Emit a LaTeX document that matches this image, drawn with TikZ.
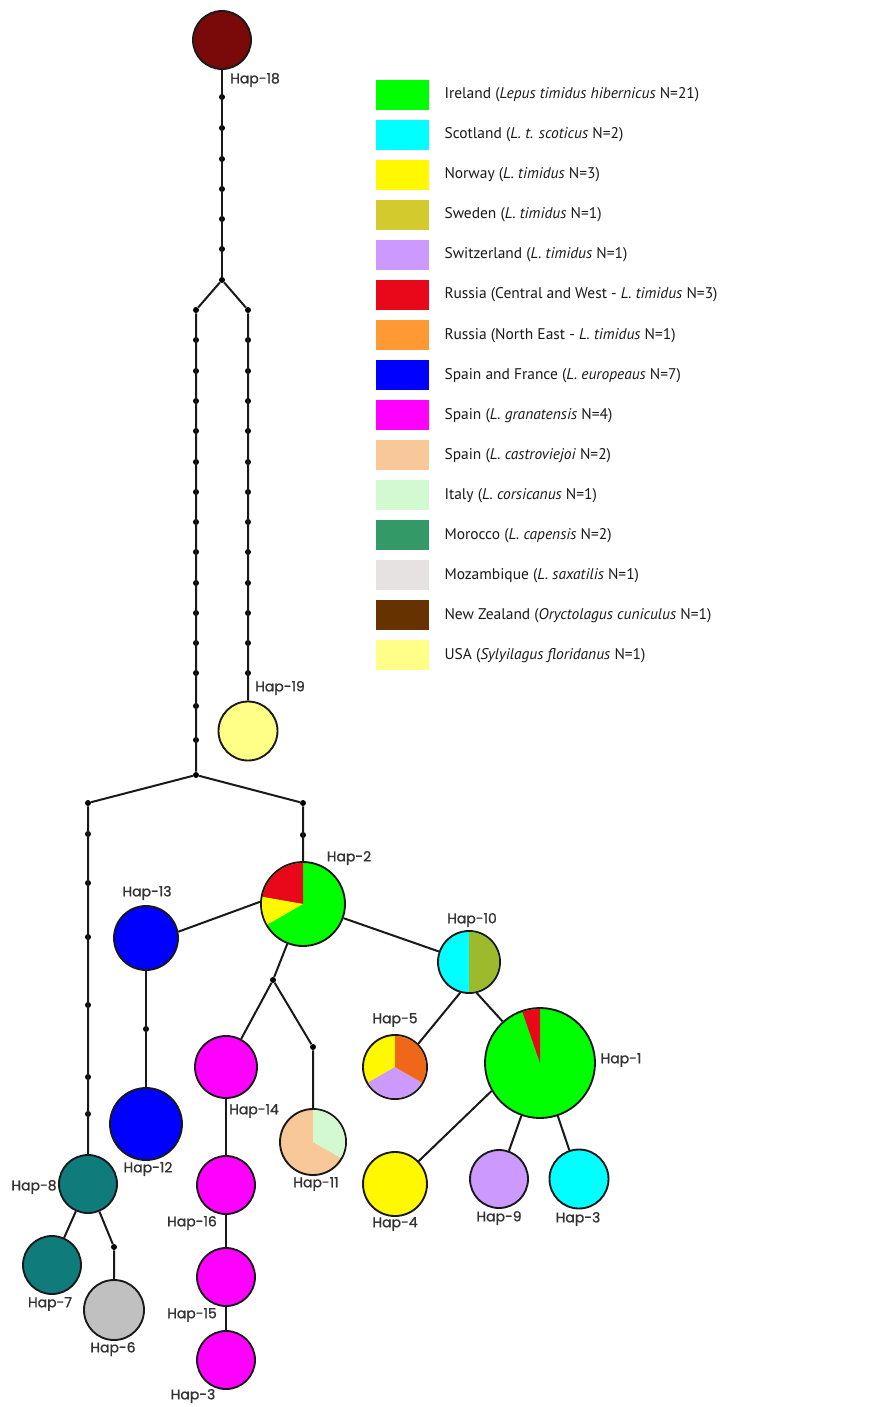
\documentclass[tikz,border=0pt]{standalone}
\usepackage{fontspec}
\setmainfont{PT Sans}
\newfontfamily\hapfont{Poppins}[FakeBold=1.2]
\usetikzlibrary{positioning}

\definecolor{ireland}{HTML}{00FF00}
\definecolor{scotland}{HTML}{00FFFF}
\definecolor{norway}{HTML}{FFF800}
\definecolor{sweden}{HTML}{D3CB2D}
\definecolor{swiss}{HTML}{CC99FF}
\definecolor{russiacw}{HTML}{E8081A}
\definecolor{russiane}{HTML}{FF9933}
\definecolor{spainfr}{HTML}{0000FF}
\definecolor{granat}{HTML}{FF00FF}
\definecolor{castro}{HTML}{F8C898}
\definecolor{italy}{HTML}{D2F9D0}
\definecolor{morocco}{HTML}{339966}
\definecolor{mozamb}{HTML}{E6E2E2}
\definecolor{nzealand}{HTML}{663300}
\definecolor{usa}{HTML}{FFFF88}
% colours as printed in the network
\definecolor{maroon}{HTML}{7A0A0A}
\definecolor{teal}{HTML}{0F7B7B}
\definecolor{greyhap}{HTML}{C0C0C0}
\definecolor{olive}{HTML}{9DB92C}
\definecolor{deeporange}{HTML}{F0671A}

% wedge of a pie node: node, radius (px), colour, from angle, to angle
\newcommand{\pieslice}[5]{%
  \fill[#3] (#1.center) -- ++({-(#4)}:#2) arc[start angle={-(#4)}, end angle={-(#5)}, radius=#2] -- cycle;}

\begin{document}
\begin{tikzpicture}[
  x=0.75pt, y=-0.75pt,
  hap/.style={circle, draw=black!90, line width=1.4pt, inner sep=0pt, minimum size=#1*1.5pt},
  mut/.style={circle, fill=black, inner sep=0pt, minimum size=4.5pt},
  link/.style={line width=1.5pt, black!90},
  haplabel/.style={font=\hapfont\fontsize{10.5}{12}\selectfont, text=black!80, inner sep=0pt},
  swatch/.style={rectangle, inner sep=0pt, minimum width=39.75pt, minimum height=22.5pt},
  legtext/.style={font=\fontsize{11.6}{13}\selectfont, text=black!90, inner sep=0pt, anchor=west}
]
\useasboundingbox (0,0) rectangle (883,1407);

% outgroup chain
\node[hap=29, fill=maroon] (h18) at (222,40) {};
\foreach \y [count=\i] in {97,128,159,189,219,249}
  \node[mut] (top\i) at (222,\y) {};
\node[mut] (j1) at (222,280) {};
\node[mut] (lc1) at (196,310) {};
\node[mut] (rc1) at (248,310) {};
\foreach \y [count=\i] in {340,371,401,431,462,492,522,552,583,613,643,673,706,740}
  \node[mut] (left\i) at (196,\y) {};
\foreach \y [count=\i] in {340,371,401,431,462,492,522,552,583,613,643,673}
  \node[mut] (right\i) at (248,\y) {};
\node[hap=29.5, fill=usa] (h19) at (248,731) {};
\node[mut] (j2) at (196,775) {};
\node[mut] (lc2) at (88,803) {};
\node[mut] (rc2) at (303,803) {};
\foreach \y [count=\i] in {834,883,937,1005,1077,1114}
  \node[mut] (low\i) at (88,\y) {};
\node[mut] (d2) at (303,835) {};

% haplotypes
\node[hap=42, fill=ireland] (h2) at (303,904) {};
\node[hap=32, fill=spainfr] (h13) at (146,938) {};
\node[mut] (d13) at (146,1029) {};
\node[hap=36, fill=spainfr] (h12) at (146,1124) {};
\node[mut] (j3) at (273,980) {};
\node[hap=31, fill=granat] (h14) at (226,1067) {};
\node[hap=29, fill=granat] (h16) at (226,1185) {};
\node[hap=29, fill=granat] (h15) at (226,1277) {};
\node[hap=29, fill=granat] (h3b) at (226,1360) {};
\node[mut] (d11) at (313,1047) {};
\node[hap=33, fill=castro] (h11) at (313,1142) {};
\node[hap=29, fill=teal] (h8) at (88,1184) {};
\node[hap=29, fill=teal] (h7) at (52,1265) {};
\node[mut] (d6) at (114,1247) {};
\node[hap=30, fill=greyhap] (h6) at (114,1310) {};
\node[hap=31, fill=scotland] (h10) at (469,962) {};
\node[hap=32, fill=norway] (h5) at (395,1067) {};
\node[hap=55, fill=ireland] (h1) at (540,1063) {};
\node[hap=32, fill=norway] (h4) at (395,1184) {};
\node[hap=29, fill=swiss] (h9) at (499,1179) {};
\node[hap=29.5, fill=scotland] (h3) at (579,1179) {};

% pie wedges
\pieslice{h2}{41}{russiacw}{90}{170}
\pieslice{h2}{41}{norway}{170}{210}
\pieslice{h10}{30}{olive}{-90}{90}
\pieslice{h5}{31}{swiss}{210}{330}
\pieslice{h5}{31}{deeporange}{-30}{90}
\pieslice{h1}{54}{russiacw}{90}{109}
\pieslice{h11}{32}{italy}{-30}{90}

% links
\draw[link] (h18) -- (j1);
\draw[link] (j1) -- (lc1) -- (j2);
\draw[link] (j1) -- (rc1) -- (h19);
\draw[link] (j2) -- (lc2) -- (h8);
\draw[link] (j2) -- (rc2) -- (h2);
\draw[link] (h2.177) -- (h13.11);
\draw[link] (h13) -- (h12);
\draw[link] (h2) -- (j3);
\draw[link] (j3) -- (h14);
\draw[link] (j3) -- (d11) -- (h11);
\draw[link] (h14) -- (h16) -- (h15) -- (h3b);
\draw[link] (h8) -- (h7);
\draw[link] (h8) -- (d6) -- (h6);
\draw[link] (h2) -- (h10);
\draw[link] (h10.-106) -- (h5.45);
\draw[link] (h10.-76) -- (h1.132);
\draw[link] (h1.210) -- (h4.44);
\draw[link] (h1) -- (h9);
\draw[link] (h1) -- (h3);

% haplotype labels
\node[haplabel] (l18) at (255,80) {Hap-18};
\node[haplabel] (l19) at (280,688) {Hap-19};
\node[haplabel] (l2) at (349,858) {Hap-2};
\node[haplabel] (l13) at (147,893) {Hap-13};
\node[haplabel] (l12) at (148,1169) {Hap-12};
\node[haplabel] (l14) at (254,1111) {Hap-14};
\node[haplabel] (l11) at (316,1184) {Hap-11};
\node[haplabel] (l8) at (34,1187) {Hap-8};
\node[haplabel] (l7) at (50,1304) {Hap-7};
\node[haplabel] (l6) at (113,1349) {Hap-6};
\node[haplabel] (l16) at (192,1223) {Hap-16};
\node[haplabel] (l15) at (192,1315) {Hap-15};
\node[haplabel] (l3b) at (193,1396) {Hap-3};
\node[haplabel] (l10) at (472,920) {Hap-10};
\node[haplabel] (l5) at (395,1020) {Hap-5};
\node[haplabel] (l1) at (621,1060) {Hap-1};
\node[haplabel] (l4) at (395,1224) {Hap-4};
\node[haplabel] (l9) at (499,1218) {Hap-9};
\node[haplabel] (l3) at (578,1219) {Hap-3};

% legend
\node[swatch, fill=ireland] (sw1) at (402.5,95) {};
\node[swatch, fill=scotland, below=7.125pt of sw1] (sw2) {};
\node[swatch, fill=norway, below=7.125pt of sw2] (sw3) {};
\node[swatch, fill=sweden, below=7.125pt of sw3] (sw4) {};
\node[swatch, fill=swiss, below=7.125pt of sw4] (sw5) {};
\node[swatch, fill=russiacw, below=7.125pt of sw5] (sw6) {};
\node[swatch, fill=russiane, below=7.125pt of sw6] (sw7) {};
\node[swatch, fill=spainfr, below=7.125pt of sw7] (sw8) {};
\node[swatch, fill=granat, below=7.125pt of sw8] (sw9) {};
\node[swatch, fill=castro, below=7.125pt of sw9] (sw10) {};
\node[swatch, fill=italy, below=7.125pt of sw10] (sw11) {};
\node[swatch, fill=morocco, below=7.125pt of sw11] (sw12) {};
\node[swatch, fill=mozamb, below=7.125pt of sw12] (sw13) {};
\node[swatch, fill=nzealand, below=7.125pt of sw13] (sw14) {};
\node[swatch, fill=usa, below=7.125pt of sw14] (sw15) {};

\node[legtext, right=11.25pt of sw1] (lg1) {Ireland (\textit{Lepus timidus hibernicus} N=21)};
\node[legtext, right=11.25pt of sw2] (lg2) {Scotland (\textit{L. t. scoticus} N=2)};
\node[legtext, right=11.25pt of sw3] (lg3) {Norway (\textit{L. timidus} N=3)};
\node[legtext, right=11.25pt of sw4] (lg4) {Sweden (\textit{L. timidus} N=1)};
\node[legtext, right=11.25pt of sw5] (lg5) {Switzerland (\textit{L. timidus} N=1)};
\node[legtext, right=11.25pt of sw6] (lg6) {Russia (Central and West - \textit{L. timidus} N=3)};
\node[legtext, right=11.25pt of sw7] (lg7) {Russia (North East - \textit{L. timidus} N=1)};
\node[legtext, right=11.25pt of sw8] (lg8) {Spain and France (\textit{L. europeaus} N=7)};
\node[legtext, right=11.25pt of sw9] (lg9) {Spain (\textit{L. granatensis} N=4)};
\node[legtext, right=11.25pt of sw10] (lg10) {Spain (\textit{L. castroviejoi} N=2)};
\node[legtext, right=11.25pt of sw11] (lg11) {Italy (\textit{L. corsicanus} N=1)};
\node[legtext, right=11.25pt of sw12] (lg12) {Morocco (\textit{L. capensis} N=2)};
\node[legtext, right=11.25pt of sw13] (lg13) {Mozambique (\textit{L. saxatilis} N=1)};
\node[legtext, right=11.25pt of sw14] (lg14) {New Zealand (\textit{Oryctolagus cuniculus} N=1)};
\node[legtext, right=11.25pt of sw15] (lg15) {USA (\textit{Sylyilagus floridanus} N=1)};
\end{tikzpicture}
\end{document}
